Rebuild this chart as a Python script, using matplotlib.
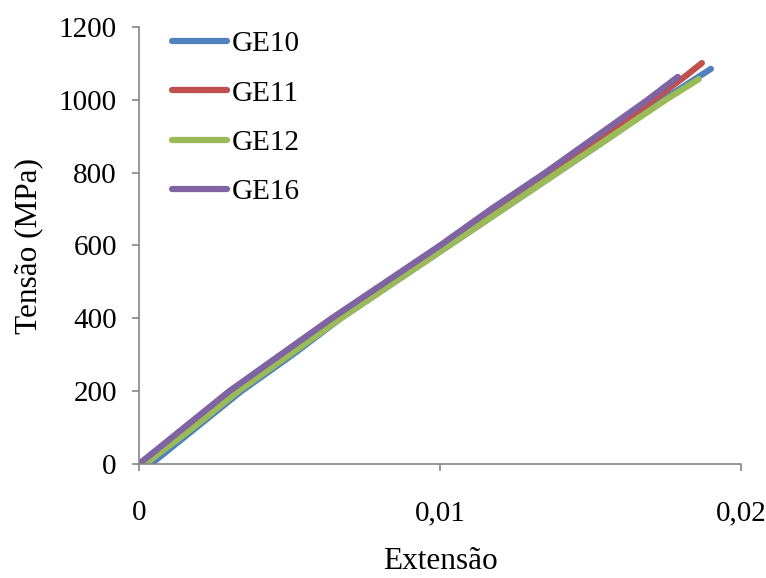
import matplotlib
matplotlib.use("Agg")
import matplotlib.pyplot as plt
from matplotlib.ticker import FixedLocator

# strain / stress readings per specimen
labels = ["GE10", "GE11", "GE12", "GE16"]
colors = ["#4F81BD", "#C0504D", "#9BBB59", "#8064A2"]

ge10_strain = [0.0004, 0.0019, 0.0034, 0.0051, 0.0067, 0.0085, 0.0103,
               0.0121, 0.0139, 0.0157, 0.0174, 0.0190]
ge10_stress = [0, 100, 200, 300, 400, 500, 600, 700, 800, 900, 1000, 1085]

ge11_strain = [0.0002, 0.0017, 0.0032, 0.0048, 0.0065, 0.0083, 0.0101,
               0.0119, 0.0137, 0.0154, 0.0171, 0.0182, 0.0187]
ge11_stress = [0, 100, 200, 300, 400, 500, 600, 700, 800, 900, 1000, 1068, 1101]

ge12_strain = [0.0002, 0.0018, 0.0033, 0.0050, 0.0067, 0.0085, 0.0103,
               0.0121, 0.0139, 0.0157, 0.0175, 0.0186]
ge12_stress = [0, 100, 200, 300, 400, 500, 600, 700, 800, 900, 1000, 1057]

ge16_strain = [0.0, 0.0015, 0.0030, 0.0047, 0.0064, 0.0082, 0.0100,
               0.0117, 0.0135, 0.0152, 0.0169, 0.0179]
ge16_stress = [0, 100, 200, 300, 400, 500, 600, 700, 800, 900, 1000, 1063]

x_ticks = [0, 0.01, 0.02]
x_ticklabels = ["0", "0,01", "0,02"]
y_ticks = [0, 200, 400, 600, 800, 1000, 1200]

plt.rcParams["font.family"] = ["Liberation Serif", "DejaVu Serif"]
plt.rcParams["font.size"] = 21

fig = plt.figure(figsize=(7.66, 5.78), dpi=100)
ax = fig.add_axes([139 / 766, 1 - 464 / 578, 602 / 766, 437 / 578])

series = [
    (ge10_strain, ge10_stress),
    (ge11_strain, ge11_stress),
    (ge12_strain, ge12_stress),
    (ge16_strain, ge16_stress),
]
for (xs, ys), lab, col in zip(series, labels, colors):
    ax.plot(xs, ys, color=col, lw=4.5, label=lab,
            solid_capstyle="round", solid_joinstyle="round")

ax.set_xlim(0, 0.02)
ax.set_ylim(0, 1200)
ax.xaxis.set_major_locator(FixedLocator(x_ticks))
ax.set_xticklabels(x_ticklabels)
ax.yaxis.set_major_locator(FixedLocator(y_ticks))

gray = "#868686"
for side in ["top", "right"]:
    ax.spines[side].set_visible(False)
for side in ["left", "bottom"]:
    ax.spines[side].set_color(gray)
    ax.spines[side].set_linewidth(1.2)
ax.tick_params(axis="both", direction="out", length=5, width=1.2, color=gray)
ax.tick_params(axis="x", pad=21)
ax.tick_params(axis="y", pad=11)

ax.set_xlabel("Extensão", fontsize=22.5)
ax.xaxis.set_label_coords(0.5, -0.222)
ax.xaxis.label.set_va("center")
ax.set_ylabel("Tensão (MPa)", fontsize=22.5)
ax.yaxis.set_label_coords(-0.184, 0.5)
ax.yaxis.label.set_va("center")

ax.legend(loc="upper left", bbox_to_anchor=(172 / 766, 1 - 31 / 578),
          bbox_transform=fig.transFigure, frameon=False, borderpad=0,
          borderaxespad=0, handlelength=1.9, handletextpad=0.15,
          labelspacing=0.78)

fig.savefig("out.png", dpi=100)
